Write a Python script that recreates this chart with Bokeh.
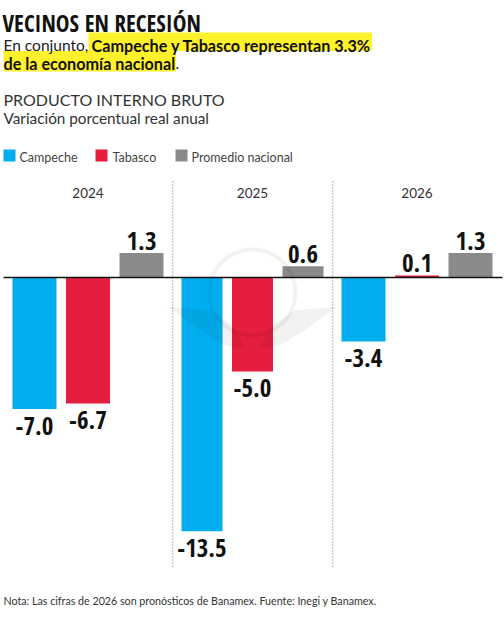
from bokeh.plotting import figure
from bokeh.models import Label, BoxAnnotation, Range1d, ColumnDataSource
from bokeh.core.properties import value
from bokeh.embed import file_html
from bokeh.resources import INLINE

years = ["2024", "2025", "2026"]
series = ["Campeche", "Tabasco", "Promedio nacional"]
campeche = [-7.0, -13.5, -3.4]
tabasco = [-6.7, -5.0, 0.1]
promedio = [1.3, 0.6, 1.3]

W, H = 504, 620
BASE_Y = 277
PX_PER_UNIT = 18.8
GROUP_PX = 164.5
LEFT_PX = 87.5
colors = ["#00AEEF", "#E41E3C", "#8A8A8A"]
group_spacing = [53.5 / GROUP_PX, 50.5 / GROUP_PX, 53.5 / GROUP_PX]
group_width = [44 / GROUP_PX, 41 / GROUP_PX, 44 / GROUP_PX]
COND = "Open Sans Condensed"
BODY = "Lato"
ADJ = 0.33

p = figure(width=W, height=H, output_backend="svg", toolbar_location=None,
           x_range=Range1d(-LEFT_PX / GROUP_PX, (W - LEFT_PX) / GROUP_PX),
           y_range=Range1d(-(H - BASE_Y) / PX_PER_UNIT, BASE_Y / PX_PER_UNIT),
           min_border=0, outline_line_color=None)
p.axis.visible = False
p.grid.visible = False
p.styles = {"position": "absolute", "left": "0", "top": "0"}

def yv(px):
    return (BASE_Y - px) / PX_PER_UNIT

def xv(px):
    return (px - LEFT_PX) / GROUP_PX

def text(t, x, y, size, color="#222222", font=BODY, style="normal"):
    p.add_layout(Label(x=x, y=H - y + size * ADJ, x_units="screen", y_units="screen", text=t,
                       text_font=font, text_font_size=f"{size}px", text_font_style=style,
                       text_color=color, text_baseline="alphabetic"))

def box(l, r, t, b, color):
    p.add_layout(BoxAnnotation(left=l, right=r, top=H - t, bottom=H - b,
                               left_units="screen", right_units="screen",
                               top_units="screen", bottom_units="screen",
                               fill_color=color, fill_alpha=1, line_color=None, level="underlay"))

# dividers
p.segment(x0=[xv(172.3), xv(332.3)], x1=[xv(172.3), xv(332.3)], y0=[yv(181)] * 2, y1=[yv(567)] * 2,
          line_color="#666666", line_width=1, line_dash=value([1, 2]))

# bars
VAL_SIZE = 25
label_renderers = []
for s, values in enumerate([campeche, tabasco, promedio]):
    xs = [g + group_spacing[g] * (s - 1) for g in range(3)]
    src = ColumnDataSource(dict(
        x=xs, top=[max(v, 0) for v in values], bottom=[min(v, 0) for v in values],
        w=group_width,
        label=[f"{v:.1f}" for v in values],
        ly=values,
        off=[25 - VAL_SIZE * ADJ if v < 0 else -4 - VAL_SIZE * ADJ for v in values],
    ))
    p.vbar(x="x", top="top", bottom="bottom", width="w", source=src,
           fill_color=colors[s], line_color=None)
    label_renderers.append(src)

# watermark: faint globe and eagle wings, tinting the bars below it
p.circle(x=[xv(252)], y=[yv(292)], radius=43 / GROUP_PX, fill_color=None,
         line_color="#000000", line_alpha=0.05, line_width=4)
p.patches([[xv(v) for v in (167, 210, 232, 245, 225, 200)], [xv(v) for v in (337, 294, 272, 259, 279, 304)]],
          [[yv(v) for v in (306, 310, 325, 348, 345, 330)]] * 2,
          fill_color="#000000", fill_alpha=0.05, line_color=None)

for src in label_renderers:
    p.text(x="x", y="ly", text="label", y_offset="off", text_baseline="alphabetic", text_align="center",
           text_font=value(COND), text_font_size=value(f"{VAL_SIZE}px"), text_font_style="bold",
           text_color="#111111", source=src)

# baseline
p.segment(x0=[xv(3)], x1=[xv(502)], y0=[0], y1=[0], line_color="#111111", line_width=1.6)

# year labels
p.text(x=[0, 1, 2], y=[yv(196.5 - 13.5 * ADJ)] * 3, text=years, text_align="center", text_baseline="alphabetic",
       text_font=value(BODY), text_font_size=value("13.5px"), text_color="#333333")

# header
box(88, 371.5, 32, 50.5, "#FFF22D")
box(3, 175.5, 50.5, 71, "#FFF22D")
text("VECINOS EN RECESIÓN", 2, 30, 23, "#111111", COND, "bold")
text("En conjunto,", 3, 50, 15.5)
text("Campeche y Tabasco representan 3.3%", 91, 50, 16.2, "#111111", style="bold")
text("de la economía nacional", 3, 68, 16.2, "#111111", style="bold")
text(".", 175, 68, 15.5)
text("PRODUCTO INTERNO BRUTO", 3, 104.5, 16, "#333333")
text("Variación porcentual real anual", 3, 123, 15.3, "#333333")

# legend
for name, color, sx, tx in zip(series, colors, (3, 95, 175), (19, 112, 191)):
    box(sx, sx + 12, 149, 161, color)
    text(name, tx, 161, 12.5, "#444444")

text("Nota: Las cifras de 2026 son pronósticos de Banamex. Fuente: Inegi y Banamex.", 3, 604, 10.7, "#333333")

open("out.html", "w").write(file_html(p, INLINE))
